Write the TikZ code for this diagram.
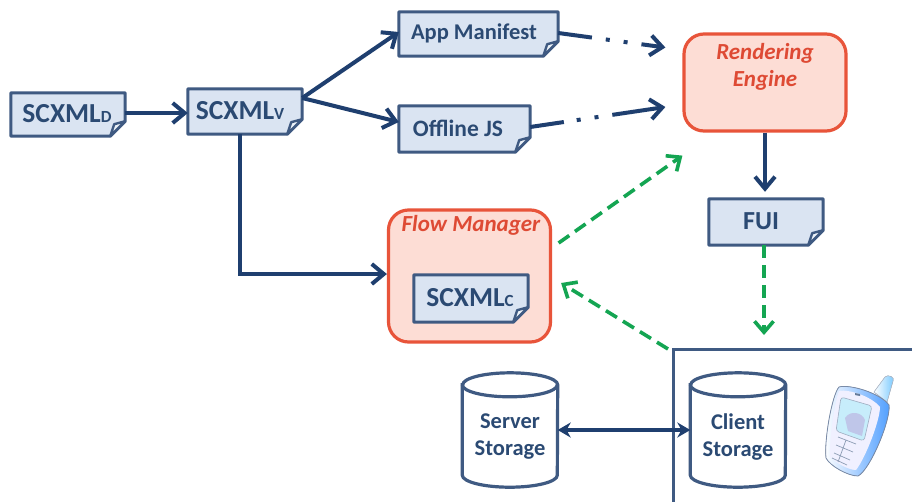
\documentclass[tikz,border=0pt]{standalone}
\usepackage{fontspec}
\setmainfont{Carlito}
\usetikzlibrary{arrows.meta}
\definecolor{navy}{HTML}{1F3F6F}
\definecolor{edge}{HTML}{3F5A82}
\definecolor{docfill}{HTML}{DAE4F2}
\definecolor{inktext}{HTML}{2B4A73}
\definecolor{redline}{HTML}{E8543A}
\definecolor{redfill}{HTML}{FDDDD5}
\definecolor{redtext}{HTML}{DE4A34}
\definecolor{greenline}{HTML}{14A552}
\tikzset{
  docbox/.style={rectangle,inner sep=0pt,text=inktext,font=\bfseries},
  mgr/.style={rectangle,rounded corners=20,draw=redline,fill=redfill,line width=3.2,inner sep=0pt},
  mgrlabel/.style={inner sep=0pt,text=redtext,font=\bfseries\itshape\fontsize{23}{27}\selectfont,align=center},
  storelabel/.style={inner sep=0pt,text=inktext,font=\bfseries\fontsize{22.5}{27}\selectfont,align=center},
  flow/.style={draw=navy,line width=4,-{Straight Barb[length=12,width=20,line width=4]}},
  gflow/.style={draw=greenline,line width=3.6,dash pattern=on 13 off 7,-{Straight Barb[length=11,width=19,line width=3.6]}},
}
\newcommand{\docoutline}[1]{%
  \draw[draw=edge,fill=docfill,line width=3,line join=round]
    (#1.north west) -- (#1.north east) -- ([yshift=15]#1.south east)
    -- ([xshift=-15]#1.south east) -- (#1.south west) -- cycle;
  \draw[draw=edge,fill=docfill!50!white,line width=2.4,line join=round]
    ([yshift=15]#1.south east) -- ([xshift=-11,yshift=12]#1.south east)
    -- ([xshift=-15]#1.south east) -- cycle;
}
\newcommand{\docnode}[9]{% name, cx, cy, w, h, text x, font size, text, sub
  \node[docbox,minimum width=#4,minimum height=#5] (#1) at (#2,#3) {};
  \docoutline{#1}
  \node[docbox,font=\bfseries\fontsize{#7}{#7}\selectfont,anchor=center] (#1t) at (#6,#3-1) {#8{\fontsize{17}{17}\selectfont #9}};
}
\newcommand{\drum}[3]{% name, cx, label
  \node[inner sep=0pt,minimum width=95,minimum height=114] (#1) at (#2,430) {};
  \draw[draw=edge,fill=white,line width=3.2]
    ([yshift=-12]#1.north west) -- ([yshift=12]#1.south west)
    arc[start angle=180,end angle=360,x radius=47.5pt,y radius=12pt]
    -- ([yshift=-12]#1.north east)
    arc[start angle=0,end angle=180,x radius=47.5pt,y radius=12pt] -- cycle;
  \draw[draw=edge,line width=3.2]
    ([yshift=-12]#1.north west)
    arc[start angle=180,end angle=360,x radius=47.5pt,y radius=12pt];
  \node[storelabel] (#1t) at (#2,437) {#3};
}
\begin{document}
\begin{tikzpicture}[x=1pt,y=-1pt]
\useasboundingbox (0,0) rectangle (912,501);
\fill[white] (0,0) rectangle (912,501);

% client box
\coordinate (cbtl) at (673,349);
\coordinate (cbtr) at (914,349);
\coordinate (cbbl) at (673,503);
\draw[draw=edge,line width=3] (cbbl) -- (cbtl) -- (cbtr);

% managers
\node[mgr,minimum width=162,minimum height=97] (rend) at (765,82.5) {};
\node[mgrlabel] (rendt) at (765,66.5) {Rendering\\Engine};
\node[mgr,minimum width=162,minimum height=132] (fm) at (469.5,276) {};
\node[mgrlabel] (fmt) at (471,225) {Flow Manager};

% documents
\docnode{d}{68}{114.5}{114}{43}{67}{27.5}{SCXML}{D}
\docnode{v}{245}{111.5}{114}{45}{240}{27.5}{SCXML}{V}
\docnode{am}{478.5}{34}{159}{44}{474}{22.5}{App Manifest}{}
\docnode{oj}{464.5}{129}{131}{46}{458}{23.5}{Offline JS}{}
\docnode{fui}{766}{222}{114}{46}{761}{26}{FUI}{}
\docnode{c}{471}{298.5}{114}{47}{470}{27.5}{SCXML}{C}

% storage
\drum{ss}{510}{Server\\Storage}
\drum{cs}{738}{Client\\Storage}

% connectors
\draw[flow] ([yshift=1.5]d.east) -- ([yshift=-1.5]v.west);
\draw[flow] ([yshift=13.5]v.east) -- ([yshift=2]am.west);
\draw[flow] ([yshift=13.5]v.east) -- ([yshift=7]oj.west);
\draw[flow] ([xshift=-5]v.south) |- ([yshift=2]fm.west);
\draw[flow,dash pattern=on 34 off 14 on 4 off 14 on 4 off 14 on 40] ([yshift=1]am.east) -- ([xshift=-17,yshift=35]rend.west);
\draw[flow,dash pattern=on 34 off 13 on 4 off 14 on 4 off 14 on 60] ([yshift=2]oj.east) -- ([xshift=-17,yshift=-24.5]rend.west);
\draw[flow] (rend.south) -- ([xshift=-1,yshift=7]fui.north);
\draw[gflow] ([xshift=6.5,yshift=33]fm.east) -- ([yshift=-23]rend.south west);
\draw[gflow] ([xshift=-2]fui.south) -- ([xshift=91,yshift=14]cbtl);
\draw[gflow] ([xshift=-5]cbtl) -- ([xshift=9,yshift=-7]fm.east);
\draw[draw=navy,line width=4,{Stealth[length=13,width=15]}-{Stealth[length=13,width=15]}] (ss.east) -- (cs.west);

% phone
\fill[left color=white,right color=blue!40!cyan!55!white,draw=edge!40,line width=.6]
   (874,392) -- (885,377) .. controls (888,374) and (895,377) .. (893,381) -- (887,402) -- cycle;
\fill[left color=white,right color=blue!55!cyan!70!white]
   (839,387) .. controls (850,384) and (880,393) .. (889,405)
   .. controls (891,420) and (870,470) .. (858,476)
   .. controls (848,476) and (830,466) .. (826,458)
   .. controls (824,440) and (832,395) .. (839,387) -- cycle;
\draw[edge!70,line width=.8]
   (839,387) .. controls (850,384) and (880,393) .. (889,405)
   .. controls (891,420) and (870,470) .. (858,476)
   .. controls (848,476) and (830,466) .. (826,458)
   .. controls (824,440) and (832,395) .. (839,387) -- cycle;
\fill[blue!6!white] (839,391) .. controls (850,389) and (872,397) .. (880,407)
   .. controls (880,420) and (866,457) .. (856,470)
   .. controls (848,470) and (835,462) .. (830,457)
   .. controls (829,440) and (835,400) .. (839,391) -- cycle;
\fill[cyan!22!white,draw=edge!50,line width=.6,rounded corners=3]
   (841,397) -- (872,406) -- (864,441) -- (836,431) -- cycle;
\fill[cyan!35!blue!25!white] (845,418) .. controls (850,410) and (862,412) .. (865,420) -- (862,436) -- (848,431) -- cycle;
\fill[edge!80] (855,393) -- (860,394) -- (860,396) -- (855,395) -- cycle;
\draw[edge!60,line width=.7]
  (838,437) -- (856,444) (836,445) -- (853,452) (834,453) -- (850,460) (832,458) -- (847,465)
  (846,440) -- (838,462);
\end{tikzpicture}
\end{document}
